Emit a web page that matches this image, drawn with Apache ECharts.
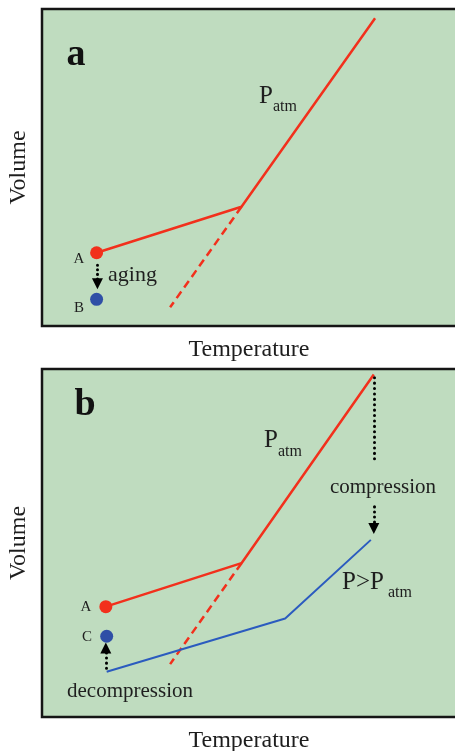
<!DOCTYPE html>
<html><head><meta charset="utf-8">
<script src="https://cdn.jsdelivr.net/npm/echarts@6/dist/echarts.min.js"></script>
<style>html,body{margin:0;padding:0;background:#fff;}#c{width:455px;height:751px;}</style>
</head><body><div id="c"></div>
<script>
// Axis names and ranges (schematic, arbitrary units)
const axisNames = { x: 'Temperature', y: 'Volume' };
const axisRange = [0, 10];

// Panel a
const aRed = [[1.30, 2.31], [4.75, 3.76], [7.93, 9.71]];
const aDash = [[4.75, 3.76], [3.05, 0.59]];
const aPointA = [1.30, 2.31];
const aPointB = [1.30, 0.84];
const aAging = [[1.32, 1.92], [1.32, 1.33]];

// Panel b
const bRed = [[1.52, 3.17], [4.75, 4.42], [7.90, 9.84]];
const bDash = [[4.75, 4.42], [3.05, 1.52]];
const bBlue = [[1.54, 1.30], [5.79, 2.83], [7.83, 5.09]];
const bPointA = [1.52, 3.17];
const bPointC = [1.54, 2.32];
const bCompressTop = [[7.90, 9.75], [7.90, 7.27]];
const bCompressBottom = [[7.90, 6.04], [7.90, 5.42]];
const bDecompress = [[1.52, 1.40], [1.52, 1.98]];

const RED = '#f2301c', BLUE_DOT = '#2f4fa6', BLUE = '#2b5bbf', GREEN = '#bfdcbf';
const SERIF = '"Liberation Serif", "DejaVu Serif", serif';
const TXT = '#1e1e1e';

function grid(top, height) {
  return { left: 42, top: top, width: 420, height: height, show: true, outerBoundsMode: 'none', containLabel: false,
    backgroundColor: GREEN, borderColor: '#151515', borderWidth: 2.5 };
}
function xAx(i) {
  return { gridIndex: i, type: 'value', min: axisRange[0], max: axisRange[1],
    name: axisNames.x, nameLocation: 'middle', nameGap: 12,
    nameTextStyle: { fontFamily: SERIF, fontSize: 24, color: TXT, padding: [0, 6, 0, 0] },
    axisLine: { show: false }, axisTick: { show: false }, axisLabel: { show: false }, splitLine: { show: false } };
}
function yAx(i) {
  return { gridIndex: i, type: 'value', min: axisRange[0], max: axisRange[1],
    name: axisNames.y, nameLocation: 'middle', nameGap: 11,
    nameTextStyle: { fontFamily: SERIF, fontSize: 24, color: TXT },
    axisLine: { show: false }, axisTick: { show: false }, axisLabel: { show: false }, splitLine: { show: false } };
}
function solid(i, data, color, w) {
  return { type: 'line', xAxisIndex: i, yAxisIndex: i, data: data, symbol: 'none',
    lineStyle: { color: color, width: w }, z: 3 };
}
function dashed(i, data) {
  return { type: 'line', xAxisIndex: i, yAxisIndex: i, data: data, symbol: 'none',
    lineStyle: { color: RED, width: 2.5, type: [8, 5] }, z: 2 };
}
function dot(i, p, color) {
  return { type: 'scatter', xAxisIndex: i, yAxisIndex: i, data: [p], symbolSize: 13,
    itemStyle: { color: color, opacity: 1 }, z: 5 };
}
function arrow(i, seg, head, gap) {
  return { type: 'lines', coordinateSystem: 'cartesian2d', xAxisIndex: i, yAxisIndex: i,
    data: [{ coords: seg }], symbol: head ? ['none', 'triangle'] : ['none', 'none'], symbolSize: [10, 11],
    lineStyle: { color: '#000', width: 3, type: [0.1, gap], cap: 'round', opacity: 1 }, z: 4 };
}
function txt(x, y, text, size, opt) {
  return Object.assign({ type: 'text', x: x, y: y, z: 10,
    style: { text: text, fill: TXT, font: size + 'px ' + SERIF, align: 'center', verticalAlign: 'middle' } }, opt || {});
}
function txtL(x, y, text, size) {
  const t = txt(x, y, text, size); t.style.align = 'left'; return t;
}

const chart = echarts.init(document.getElementById('c'), null, { renderer: 'canvas' });
chart.setOption({
  animation: false,
  grid: [grid(9, 317), grid(369, 348)],
  xAxis: [xAx(0), xAx(1)],
  yAxis: [yAx(0), yAx(1)],
  series: [
    dashed(0, aDash), solid(0, aRed, RED, 2.5), dot(0, aPointA, RED), dot(0, aPointB, BLUE_DOT),
    arrow(0, aAging, true, 4.5),
    dashed(1, bDash), solid(1, bRed, RED, 2.5), solid(1, bBlue, BLUE, 2), dot(1, bPointA, RED), dot(1, bPointC, BLUE_DOT),
    arrow(1, bCompressTop, false, 5.3), arrow(1, bCompressBottom, true, 5), arrow(1, bDecompress, true, 5)
  ],
  graphic: [
    { type: 'text', x: 76, y: 55, z: 10, style: { text: 'a', fill: '#111', font: 'bold 38px ' + SERIF, align: 'center', verticalAlign: 'middle' } },
    txt(79, 259, 'A', 15), txt(79, 308, 'B', 15),
    txtL(108, 275, 'aging', 22),
    txtL(259, 96, 'P', 25), txtL(273, 107, 'atm', 16),
    { type: 'text', x: 85, y: 405, z: 10, style: { text: 'b', fill: '#111', font: 'bold 38px ' + SERIF, align: 'center', verticalAlign: 'middle' } },
    txtL(264, 440, 'P', 25), txtL(278, 452, 'atm', 16),
    txt(383, 487, 'compression', 21),
    txtL(342, 582, 'P>P', 25), txtL(388, 593, 'atm', 16),
    txt(86, 607, 'A', 15), txt(87, 637, 'C', 15),
    txt(130, 691, 'decompression', 21)
  ]
});
</script></body></html>
